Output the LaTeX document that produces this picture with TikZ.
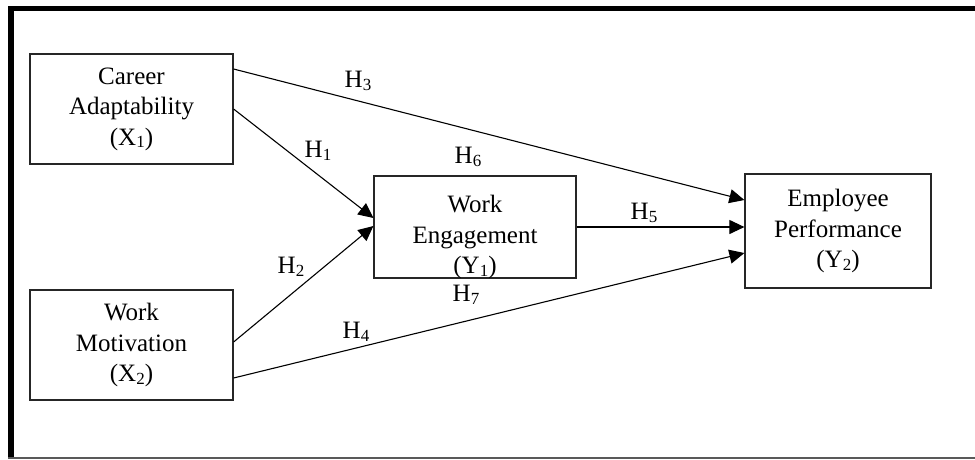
\documentclass[tikz,border=0pt]{standalone}
\usepackage{fontspec}
\setmainfont{Liberation Serif}
\usetikzlibrary{arrows.meta,positioning}

\newcommand{\idx}[1]{\raisebox{-2.5pt}{\fontsize{17}{17}\selectfont #1}}

\begin{document}
\begin{tikzpicture}[
x=1pt, y=-1pt,
var/.style={
  draw=black!85,
  line width=1.2pt,
  align=center,
  inner sep=0pt,
  font=\fontsize{25}{30.5}\selectfont
  },
hyp/.style={
  inner sep=0pt,
  font=\fontsize{25}{30.5}\selectfont
  },
link/.style={
  ->,
  line width=1.1pt
  },
>={Triangle[length=15pt,width=14pt]}
]

\useasboundingbox (0,0) rectangle (975,459);

% frame
\draw[line width=5pt] (8,8.5) -- (975,8.5);
\draw[line width=6pt] (11,6) -- (11,459);
\draw[black!65, line width=1.5pt] (8,458) -- (975,458);

% variables
\node[var, minimum width=203pt, minimum height=110pt] (ca) at (131.5,109) {Career\\Adaptability\\(X\idx{1})};
\node[var, minimum width=203pt, minimum height=110pt] (wm) at (131.5,345) {Work\\Motivation\\(X\idx{2})};
\node[var, minimum width=202pt, minimum height=102pt] (we) at (475,227) {};
\node[var, minimum width=186pt, minimum height=114pt] (ep) at (838,231) {Employee\\Performance\\(Y\idx{2})};

\begin{scope}
\clip (we.south west) rectangle (we.north east);
\node[hyp, align=center] (wetext) at (475,237) {Work\\Engagement\\(Y\idx{1})};
\end{scope}

% paths
\draw[link] ([yshift=40pt]ca.east) -- ([yshift=31pt]ep.west);
\draw[link] (ca.east) -- ([yshift=9pt]we.west);
\draw[link] ([yshift=3pt]wm.east) -- ([yshift=1pt]we.west);
\draw[link] ([yshift=-33pt]wm.east) -- ([yshift=-22pt]ep.west);
\draw[link] (we.east) -- ([yshift=4pt]ep.west);

% hypotheses
\node[hyp] (h3) at (358,81) {H\idx{3}};
\node[hyp] (h1) at (318,151) {H\idx{1}};
\node[hyp] (h6) at (468,157) {H\idx{6}};
\node[hyp] (h5) at (644,213) {H\idx{5}};
\node[hyp] (h2) at (291,267) {H\idx{2}};
\node[hyp] (h7) at (466,295) {H\idx{7}};
\node[hyp] (h4) at (356,332) {H\idx{4}};

\end{tikzpicture}
\end{document}
